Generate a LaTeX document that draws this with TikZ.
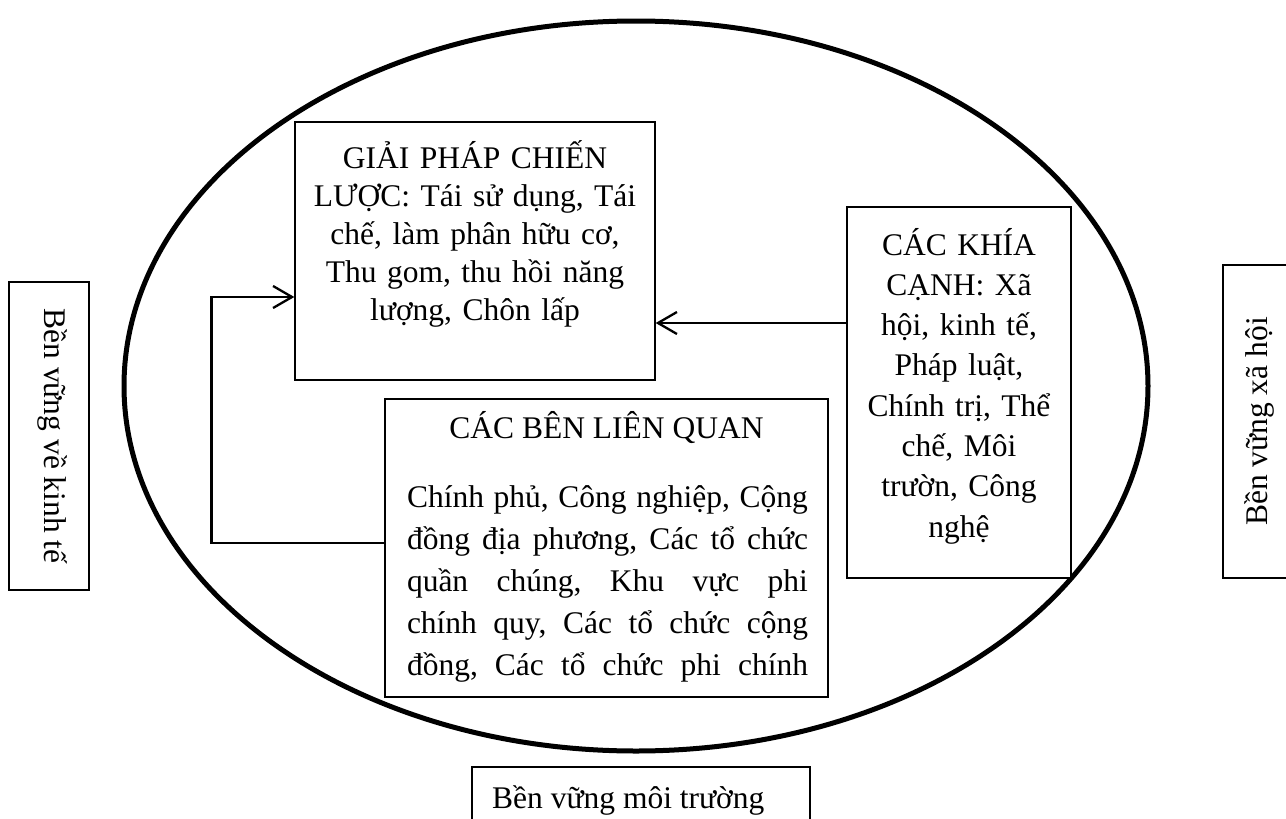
\documentclass[tikz,border=0pt]{standalone}
\usepackage{fontspec}
\setmainfont{Liberation Serif}
\usetikzlibrary{arrows.meta}
% one fully justified line of the stakeholder paragraph: words separated by "|"
\newcommand{\jline}[1]{\hbox to 401pt{\jwords#1|\relax}}
\def\jwords#1|#2\relax{#1\ifx\relax#2\relax\else\hfill\jwords#2\relax\fi}

\begin{document}
\begin{tikzpicture}[x=1pt,y=-1pt,
  frame/.style={draw, fill=white, line width=1.3pt, inner sep=0pt, rectangle},
  ring/.style={draw, line width=5pt},
  link/.style={line width=2.3pt, -{Straight Barb[length=19pt,width=22pt]}},
  txt/.style={inner sep=0pt, font=\fontsize{31.5}{38}\selectfont}
]
\useasboundingbox (0,0) rectangle (1286,819);

% outer sustainability ring
\draw[ring] (636,386) ellipse [x radius=512pt, y radius=365pt];

% boxes
\node[frame, minimum width=360pt, minimum height=258pt] (strat) at (475,251) {};
\node[frame, minimum width=443pt, minimum height=298pt] (stake) at (606.5,548) {};
\node[frame, minimum width=224pt, minimum height=371pt] (aspects) at (959,392.5) {};
\node[frame, minimum width=80pt, minimum height=308pt] (econ) at (49,436) {};
\node[frame, minimum width=80pt, minimum height=313pt] (social) at (1263,421.5) {};
\node[frame, minimum width=338pt, minimum height=86pt] (env) at (641,810) {};

% texts
\node[txt, text width=360pt, align=center, anchor=base] (stratT) at (475,168)
  {GIẢI PHÁP CHIẾN\\ LƯỢC: Tái sử dụng, Tái\\ chế, làm phân hữu cơ,\\ Thu gom, thu hồi năng\\ lượng, Chôn lấp};
\node[txt, anchor=base] (stakeT) at (606.5,438) {CÁC BÊN LIÊN QUAN};
\node[txt, text width=401pt, anchor=base, font=\fontsize{31.5}{42}\selectfont] (stakeP) at (607.5,507)
  {\jline{Chính|phủ,|Công|nghiệp,|Cộng}
   \jline{đồng|địa|phương,|Các|tổ|chức}
   \jline{quần|chúng,|Khu|vực|phi}
   \jline{chính|quy,|Các|tổ|chức|cộng}
   \jline{đồng,|Các|tổ|chức|phi|chính}};
\node[txt, text width=224pt, align=center, anchor=base, font=\fontsize{31.5}{40.3}\selectfont] (aspectsT) at (959,255)
  {CÁC KHÍA\\ CẠNH: Xã\\ hội, kinh tế,\\ Pháp luật,\\ Chính trị, Thể\\ chế, Môi\\ trườn, Công\\ nghệ};
\node[txt, rotate=-90] (econT) at (53,436) {Bền vững về kinh tế};
\node[txt, rotate=90] (socialT) at (1259,421.5) {Bền vững xã hội};
\node[txt, anchor=base west] (envT) at (492,808) {Bền vững môi trường};

% connectors
\draw[link] ([yshift=69.5pt]aspects.west) -- ([yshift=69.5pt]aspects.west -| strat.east);
\draw[link] ([yshift=5pt]stake.west) -- ++(-173,0) |- ([yshift=-46pt]strat.west);
\end{tikzpicture}
\end{document}
